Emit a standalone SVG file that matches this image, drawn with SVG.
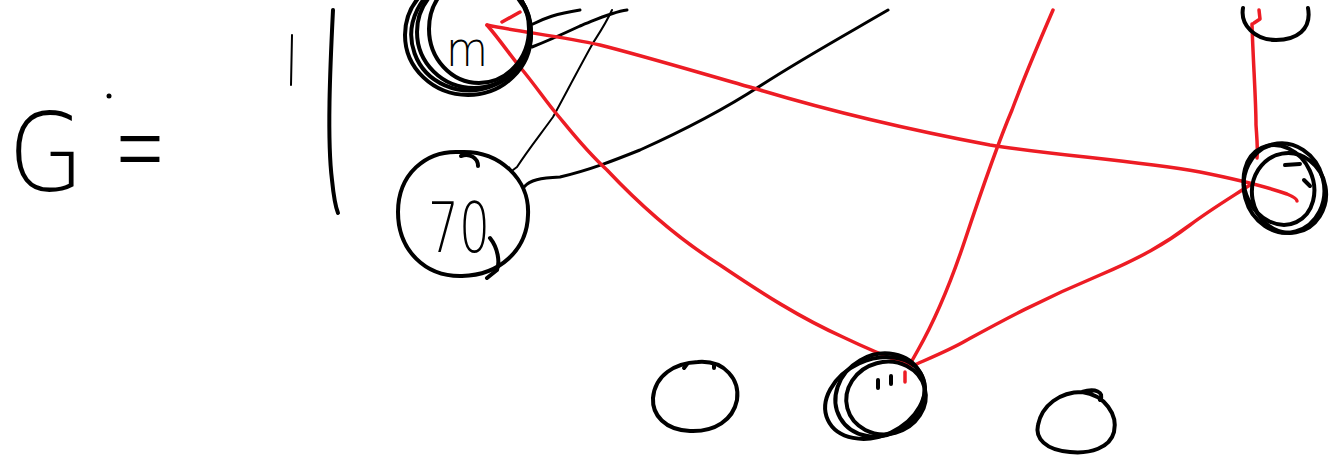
<svg xmlns="http://www.w3.org/2000/svg" width="1341" height="460" viewBox="0 0 1341 460">
<style>
.ink{fill:none;stroke:#000;stroke-width:4;stroke-linecap:round;stroke-linejoin:round}
.thin{fill:none;stroke:#000;stroke-width:2;stroke-linecap:round;stroke-linejoin:round}
.mid{fill:none;stroke:#000;stroke-width:3;stroke-linecap:round;stroke-linejoin:round}
.red{fill:none;stroke:#ed1c24;stroke-width:3.5;stroke-linecap:round;stroke-linejoin:round}
.hand{font-family:"DejaVu Sans","Liberation Sans",sans-serif;fill:#000}
</style>
<rect width="1341" height="460" fill="#fff"/>
<g id="title">
<text class="hand" x="8" y="191" font-size="108" font-weight="200" textLength="76" lengthAdjust="spacingAndGlyphs">G</text>
<text class="hand" x="114" y="190" font-size="130" font-weight="200" textLength="52" lengthAdjust="spacingAndGlyphs">=</text>
<circle cx="109" cy="96" r="2.5" fill="#000"/>
<path class="thin" d="M292 35 L291 85"/>
<path class="ink" d="M333 10 C330 70 327 140 332 180 C334 200 336 208 338 213"/>
</g>
<g id="edges">
<path class="mid" d="M533 24 C545 18 555 14 580 10"/>
<path class="mid" d="M532 47 C550 40 565 33 580 26 C600 18 612 12 627 10"/>
<path class="thin" d="M612 10 C605 25 598 35 593 43 C578 70 565 95 553 117 C540 135 528 150 517 167 L513 170"/>
<path class="mid" d="M524 187 C530 180 540 178 560 177 C590 170 615 160 640 150 C680 132 720 112 760 86 C800 60 845 35 888 10"/>
<path class="red" d="M487 25 C520 32 560 36 600 45 C640 55 690 70 760 90 C820 108 900 128 990 145 C1060 156 1130 160 1200 172 C1240 180 1270 188 1287 194 C1294 197 1297 199 1297 201"/>
<path class="red" d="M487 25 C500 40 510 55 520 67 C535 85 545 100 555 112 C570 130 585 150 607 170 C640 205 680 240 720 265 C760 292 800 318 845 338 C870 350 890 358 908 365"/>
<path class="red" d="M502 22 L520 12"/>
<path class="red" d="M1053 10 C1040 40 1025 75 1012 110 C995 150 980 195 965 240 C950 285 935 320 918 350 L909 366"/>
<path class="red" d="M912 366 C930 358 950 350 967 340 C1000 322 1040 300 1100 275 C1140 258 1165 244 1190 225 C1210 210 1230 198 1250 185"/>
<path class="red" d="M1252 24 C1253 60 1256 100 1256 125 C1257 140 1258 150 1257 158"/>
<path class="red" d="M1259 10 L1260 19 L1254 23"/>
<path class="red" d="M905 372 L905 382" stroke-width="2.5"/>
</g>
<g id="node-m">
<ellipse class="ink" cx="468" cy="35" rx="63" ry="60"/>
<ellipse class="ink" cx="474" cy="32" rx="57" ry="56"/>
<ellipse class="ink" cx="479" cy="29" rx="50" ry="54"/>
<ellipse class="ink" cx="471" cy="33" rx="60" ry="57" transform="rotate(-20 471 33)"/>
<text class="hand" x="446" y="66" font-size="48" font-weight="200" textLength="42" lengthAdjust="spacingAndGlyphs">m</text>
</g>
<g id="node-70">
<path class="ink" d="M460 152 C500 150 530 180 528 215 C527 250 500 275 462 276 C425 277 398 250 398 212 C398 175 425 150 460 152"/>
<path class="ink" d="M461 156 C470 153 478 158 478 166"/>
<path class="ink" d="M490 238 C498 248 500 262 497 270 L487 278"/>
<text class="hand" x="428" y="252" font-size="70" font-weight="200" textLength="62" lengthAdjust="spacingAndGlyphs">70</text>
</g>
<g id="node-top-right">
<path class="ink" d="M1243 8 C1240 25 1255 40 1276 40 C1296 40 1312 30 1308 8"/>
</g>
<g id="node-right">
<ellipse class="ink" cx="1284" cy="188" rx="40" ry="45" transform="rotate(-15 1284 188)"/>
<ellipse class="ink" cx="1279" cy="185" rx="34" ry="41" transform="rotate(-25 1279 185)"/>
<ellipse class="ink" cx="1289" cy="193" rx="37" ry="40" transform="rotate(-10 1289 193)"/>
<path class="ink" d="M1285 165 L1300 164"/>
<path class="ink" d="M1304 180 L1310 186"/>
</g>
<g id="node-b1">
<path class="ink" d="M698 362 C725 360 740 380 737 400 C733 420 715 432 690 431 C665 430 652 415 653 398 C655 375 675 363 698 362"/>
<path class="ink" d="M684 368 L687 364 M714 364 L714 368" stroke-width="3"/>
</g>
<g id="node-b2">
<ellipse class="ink" cx="875" cy="398" rx="52" ry="38" transform="rotate(-25 875 398)"/>
<ellipse class="ink" cx="880" cy="395" rx="46" ry="40" transform="rotate(-30 880 395)"/>
<ellipse class="ink" cx="886" cy="398" rx="40" ry="36" transform="rotate(-15 886 398)"/>
<path class="ink" d="M878 380 L878 388 M891 376 L891 384" stroke-width="3"/>
</g>
<g id="node-b3">
<path class="ink" d="M1082 392 C1105 395 1118 415 1114 432 C1110 448 1090 454 1070 452 C1045 450 1035 438 1038 425 C1042 405 1060 392 1082 392 C1095 388 1105 392 1100 400"/>
</g>
</svg>
